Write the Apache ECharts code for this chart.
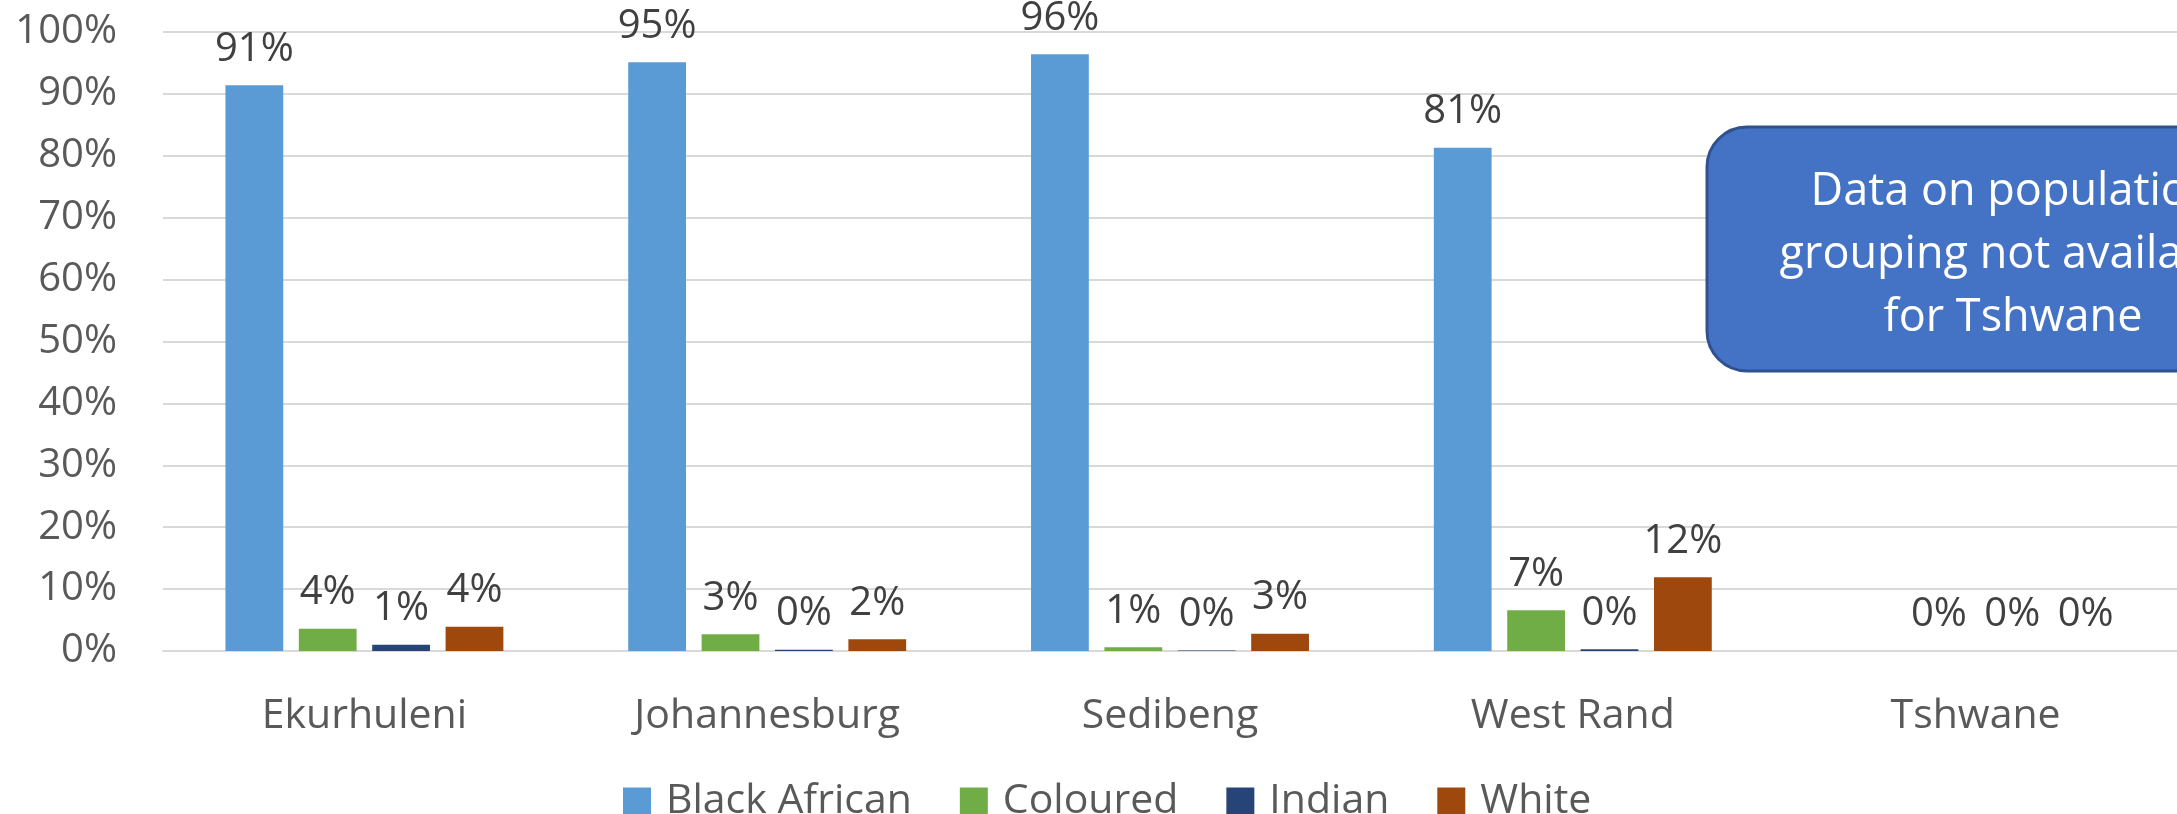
<!DOCTYPE html>
<html>
<head>
<meta charset="utf-8">
<title>Population grouping by region</title>
<script src="https://cdn.jsdelivr.net/npm/echarts@6/dist/echarts.min.js"></script>
<style>
  html, body { margin:0; padding:0; background:#fff; }
  #chart { width:2177px; height:814px; }
</style>
</head>
<body>
<div id="chart"></div>
<script>
// ====== data (percent) ======
const regions      = ['Ekurhuleni','Johannesburg','Sedibeng','West Rand','Tshwane'];
const blackAfrican = [91.4, 95.1, 96.4, 81.3, '-'];
const coloured     = [3.6, 2.7, 0.6, 6.6, 0];
const indian       = [1.0, 0.2, 0.1, 0.3, 0];
const white        = [3.9, 1.9, 2.8, 11.9, 0];
const yTicks       = { min:0, max:100, interval:10 };
const noteText     = 'Data on population\ngrouping not available\nfor Tshwane';

// ====== styles ======
const FONT = '"Open Sans", "Liberation Sans", sans-serif';
const AXIS_GREY = '#595959';
const LABEL_GREY = '#404040';
const GRID_GREY = '#D9D9D9';

const chart = echarts.init(document.getElementById('chart'), null, { renderer:'canvas' });

function barSeries(name, data, color){
  return {
    name, type:'bar', data,
    barGap:'27%', barCategoryGap:'31%',
    itemStyle:{ color },
    label:{
      show:true, position:'top', distance:16,
      color:LABEL_GREY, fontFamily:FONT, fontSize:40,
      formatter:(p)=> Math.round(p.value) + '%'
    }
  };
}

chart.setOption({
  animation:false,
  textStyle:{ fontFamily:FONT },
  grid:{ left:163, right:0, top:32, bottom:163, containLabel:false },
  legend:{
    left:618, top:776,
    itemWidth:28, itemHeight:28, itemGap:48,
    icon:'rect',
    textStyle:{ color:AXIS_GREY, fontSize:41, fontFamily:FONT, padding:[0,0,0,10] },
    data:['Black African','Coloured','Indian','White']
  },
  xAxis:{
    type:'category', data:regions,
    axisLine:{ lineStyle:{ color:GRID_GREY, width:2 } },
    axisTick:{ show:false },
    axisLabel:{ color:AXIS_GREY, fontSize:41, fontFamily:FONT, margin:45 }
  },
  yAxis:{
    type:'value', min:yTicks.min, max:yTicks.max, interval:yTicks.interval,
    axisLine:{ show:false }, axisTick:{ show:false },
    splitLine:{ lineStyle:{ color:GRID_GREY, width:2 } },
    axisLabel:{ color:AXIS_GREY, fontSize:40, fontFamily:FONT, margin:46, formatter:'{value}%' }
  },
  series:[
    barSeries('Black African', blackAfrican, '#5B9BD5'),
    barSeries('Coloured', coloured, '#70AD47'),
    barSeries('Indian', indian, '#264478'),
    barSeries('White', white, '#9E480E')
  ],
  // callout box (annotation, clipped at the right edge like the source)
  graphic:[
    {
      type:'rect', z:100,
      shape:{ x:1707, y:127, width:612, height:244, r:40 },
      style:{ fill:'#4472C4', stroke:'#2F528F', lineWidth:3 }
    },
    {
      type:'text', z:101,
      style:{
        text:noteText, x:2013, y:255,
        align:'center', verticalAlign:'middle',
        fill:'#fff', fontSize:45, fontFamily:FONT, lineHeight:63
      }
    }
  ]
});
</script>
</body>
</html>
